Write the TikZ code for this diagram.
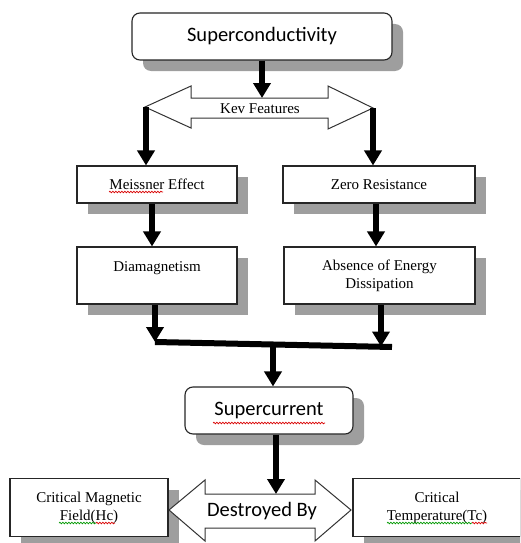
\documentclass[tikz,border=0pt]{standalone}
\usepackage{fontspec}
\setmainfont{Liberation Serif}
\newfontfamily\carl{Carlito}
\usetikzlibrary{arrows.meta,shadows,decorations.pathmorphing}
\tikzset{
  shadowed/.style={drop shadow={shadow xshift=11pt,shadow yshift=-11pt,fill=black!38,opacity=1}},
  sqbox/.style={draw=black!85,line width=1.1pt,fill=white,shadowed,align=center,inner sep=2pt,
     font=\fontsize{15pt}{18pt}\selectfont},
  rbox/.style={sqbox,rounded corners=8pt,font=\carl\fontsize{20.5pt}{24pt}\selectfont},
  thk/.style={line width=5.5pt,-{Triangle[width=17pt,length=15pt]}},
  bigarrow/.style={draw=black!80,line width=1pt,fill=white,line join=miter},
  redsq/.style={draw=red!85!black,line width=0.7pt,decorate,decoration={snake,amplitude=0.8pt,segment length=3pt}},
  greensq/.style={redsq,draw=green!60!black},
}
\begin{document}
\begin{tikzpicture}[x=1pt,y=-1pt]
\useasboundingbox (0,0) rectangle (520,543);
\clip (0,0) rectangle (520,543);
% boxes
\node[rbox,minimum width=260pt,minimum height=47pt] (sc) at (262,36.5) {Superconductivity};
\node[sqbox,minimum width=160pt,minimum height=37pt] (me) at (157,184.5) {Meissner Effect};
\node[sqbox,minimum width=192pt,minimum height=37pt] (zr) at (379,184.5) {Zero Resistance};
\node[sqbox,minimum width=160pt,minimum height=57pt] (dia) at (157,275.5) {Diamagnetism\\\mbox{}};
\node[sqbox,minimum width=191pt,minimum height=57pt] (abs) at (379.5,275.5) {Absence of Energy\\Dissipation};
\node[rbox,minimum width=168pt,minimum height=47pt] (cur) at (269,410.5) {Supercurrent};
\node[sqbox,minimum width=158pt,minimum height=58pt] (cmf) at (89,507.5) {Critical Magnetic\\Field(Hc)};
\node[sqbox,minimum width=168pt,minimum height=58pt] (ct) at (437,507.5) {Critical\\Temperature(Tc)};
% spell-check marks
\draw[redsq] (109,192) -- (163,192);
\draw[redsq] (213,423) -- (325,423);
\draw[greensq] (59,523) -- (96,523);
\draw[redsq] (96,523) -- (115,523);
\draw[greensq] (387,523) -- (472,523);
\draw[redsq] (472,523) -- (487,523);
% Key Features double arrow
\draw[bigarrow] (145,107) -- (191,86) -- (191,98) -- (328,98) -- (328,86) -- (373,108)
   -- (328,129) -- (328,118) -- (191,118) -- (191,128) -- cycle;
\node[font=\fontsize{15pt}{18pt}\selectfont,inner sep=0pt] (kf) at (260,109) {Kev Features};
\coordinate (kft) at (262,98);
\coordinate (kfL) at (146,107);
\coordinate (kfR) at (373,108);
% Destroyed By double arrow
\draw[bigarrow] (169,510) -- (205,480) -- (205,494) -- (315,494) -- (315,480) -- (351,510)
   -- (315,541) -- (315,528) -- (205,528) -- (205,541) -- cycle;
\node[font=\carl\fontsize{20.5pt}{24pt}\selectfont,inner sep=0pt] (db) at (262,511) {Destroyed By};
\coordinate (dbt) at (276,494);
% connectors
\draw[thk] (sc.south) -- (kft);
\draw[line width=5.5pt,-{Triangle[width=17pt,length=15pt]}] (kfL) -- (kfL |- me.north);
\draw[thk] (kfR) -- (kfR |- zr.north);
\draw[thk] ([xshift=-5pt]me.south) -- ([xshift=-5pt]dia.north);
\draw[thk] ([xshift=-3pt]zr.south) -- ([xshift=-3.5pt]abs.north);
\coordinate (barL) at (155,342);
\coordinate (barR) at (392,347);
\coordinate (barM) at (273,344.5);
\draw[thk] ([xshift=-2pt]dia.south) -- (barL);
\draw[thk] ([xshift=1.5pt]abs.south) -- (381,346.5);
\draw[line width=6pt] (barL) -- (barR);
\draw[thk] (barM) -- (barM |- cur.north);
\draw[thk] (dbt |- cur.south) -- (dbt);
\end{tikzpicture}
\end{document}
